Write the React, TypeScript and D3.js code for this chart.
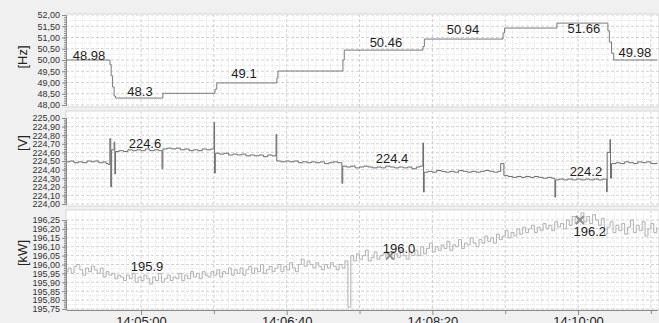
import { useEffect, useRef } from "react";
import * as d3 from "d3";

// times are seconds after 14:00:00
const xDomain = [248.5, 654.2];
const xTickLabels = ["14:05:00", "14:06:40", "14:08:20", "14:10:00"];
const xMinorTicks = [350, 450, 550, 650];

const hzTickLabels = ["48,00", "48,50", "49,00", "49,50", "50,00", "50,50", "51,00", "51,50", "52,00"];
const vTickLabels = ["224,00", "224,10", "224,20", "224,30", "224,40", "224,50", "224,60", "224,70", "224,80", "224,90", "225,00"];
const kwTickLabels = ["195,75", "195,80", "195,85", "195,90", "195,95", "196,00", "196,05", "196,10", "196,15", "196,20", "196,25"];

// frequency, step signal [t, Hz]
const hzSteps: [number, number][] = [
  [248.5, 50.0], [278.7, 49.8], [279.5, 49.3], [280.5, 48.8], [281.5, 48.4], [282.5, 48.31],
  [315.0, 48.52], [350.8, 48.7], [352.0, 48.98], [393.3, 49.2], [394.0, 49.51],
  [438.6, 50.0], [439.5, 50.44], [493.5, 50.6], [494.5, 50.93], [548.5, 51.2], [549.5, 51.42],
  [585.5, 51.64], [620.5, 51.3], [621.5, 50.8], [623.0, 50.3], [624.5, 50.0], [654.2, 50.0],
];

// voltage [t, V]
const vPoints: [number, number][] = [
  [248.5, 224.49], [251, 224.5], [254, 224.48], [257, 224.49], [260, 224.48], [263, 224.5], [266, 224.49],
  [268, 224.5], [271, 224.48], [274, 224.49], [276, 224.47], [277.5, 224.46],
  [278.6, 224.76], [279.2, 224.2], [279.8, 224.63], [281.5, 224.72], [282.0, 224.35], [282.5, 224.61],
  [285, 224.62], [288, 224.61], [291, 224.63], [294, 224.62], [297, 224.63], [300, 224.62], [303, 224.64],
  [306, 224.62], [309, 224.63], [312, 224.62],
  [314.4, 224.41], [315.0, 224.64],
  [318, 224.65], [321, 224.64], [324, 224.65], [327, 224.63], [330, 224.64], [333, 224.62], [336, 224.63],
  [339, 224.62], [342, 224.64], [345, 224.63], [348, 224.64],
  [350.1, 224.95], [350.5, 224.36], [351.0, 224.59],
  [354, 224.58], [357, 224.59], [360, 224.57], [363, 224.58], [366, 224.57], [369, 224.58], [372, 224.56],
  [375, 224.57], [378, 224.56], [381, 224.57], [384, 224.55], [387, 224.57], [390, 224.56],
  [392.7, 224.81], [393.2, 224.5],
  [396, 224.49], [399, 224.5], [402, 224.49], [405, 224.5], [408, 224.48], [411, 224.49], [414, 224.48],
  [417, 224.49], [420, 224.48], [423, 224.49], [426, 224.47], [429, 224.48], [432, 224.49], [435, 224.48],
  [437.9, 224.24], [438.5, 224.44],
  [441, 224.43], [444, 224.44], [447, 224.42], [450, 224.43], [453, 224.44], [456, 224.43], [459, 224.42],
  [462, 224.43], [465, 224.42], [468, 224.44], [471, 224.43], [474, 224.42], [477, 224.43], [480, 224.42],
  [483, 224.43], [486, 224.41], [489, 224.43], [491.5, 224.44],
  [493.5, 224.71], [493.9, 224.14], [494.4, 224.37],
  [497, 224.38], [500, 224.37], [503, 224.39], [506, 224.38], [509, 224.37], [512, 224.38], [515, 224.37],
  [518, 224.39], [521, 224.38], [524, 224.37], [527, 224.38], [530, 224.37], [533, 224.38], [536, 224.39],
  [539, 224.38], [542, 224.37], [545, 224.38],
  [546.9, 224.47], [549.1, 224.33],
  [552, 224.32], [555, 224.31], [558, 224.32], [561, 224.31], [564, 224.32], [567, 224.31], [570, 224.32],
  [573, 224.31], [576, 224.3], [579, 224.31], [582, 224.3],
  [584.1, 224.08], [584.6, 224.28],
  [587, 224.29], [590, 224.28], [593, 224.29], [596, 224.28], [599, 224.29], [602, 224.28], [605, 224.29],
  [608, 224.28], [611, 224.29], [614, 224.28], [617, 224.29],
  [619.6, 224.14], [620.0, 224.6], [621.9, 224.75], [622.3, 224.3], [623.0, 224.47],
  [626, 224.48], [629, 224.47], [632, 224.49], [635, 224.48], [638, 224.47], [641, 224.49], [644, 224.48],
  [647, 224.49], [650, 224.47], [654.2, 224.48],
];

// power, one sample every 2 s from t = 248
const kwStart = 248;
const kwInterval = 2;
const kwValues = [
  195.96, 195.98, 195.95, 195.99, 196.0, 195.97, 195.94, 195.98, 195.96, 195.99,
  195.97, 195.95, 195.98, 195.93, 195.96, 195.94, 195.95, 195.92, 195.94, 195.93,
  195.91, 195.94, 195.92, 195.95, 195.9, 195.93, 195.91, 195.94, 195.92, 195.89,
  195.93, 195.91, 195.95, 195.9, 195.92, 195.94, 195.91, 195.93, 195.92, 195.95,
  195.91, 195.94, 195.92, 195.96, 195.93, 195.95, 195.92, 195.96, 195.94, 195.93,
  195.96, 195.94, 195.97, 195.93, 195.96, 195.95, 195.98, 195.94, 195.97, 195.95,
  195.98, 195.94, 195.97, 195.99, 195.95, 195.98, 195.96, 196.0, 195.95, 195.97,
  195.99, 195.96, 195.98, 196.0, 195.96, 195.99, 195.97, 196.01, 195.98, 195.96,
  196.0, 196.03, 195.99, 196.02, 196.0, 195.98, 196.01, 195.99, 195.97, 196.0,
  195.98, 196.01, 195.99, 195.97, 196.0, 195.98, 196.02, 195.76, 196.05, 196.02,
  196.06, 196.03, 196.05, 196.08, 196.02, 196.04, 196.07, 196.03, 196.05, 196.06,
  196.04, 196.07, 196.03, 196.06, 196.04, 196.08, 196.05, 196.03, 196.07, 196.05,
  196.08, 196.05, 196.1, 196.06, 196.09, 196.12, 196.07, 196.1, 196.08, 196.11,
  196.09, 196.13, 196.08, 196.11, 196.1, 196.14, 196.09, 196.12, 196.11, 196.15,
  196.12, 196.1, 196.14, 196.12, 196.16, 196.13, 196.15, 196.12, 196.17, 196.14,
  196.16, 196.19, 196.15, 196.18, 196.16, 196.2, 196.17, 196.21, 196.18, 196.2,
  196.22, 196.18, 196.21, 196.19, 196.23, 196.2, 196.22, 196.19, 196.24, 196.21,
  196.23, 196.2, 196.25, 196.22, 196.27, 196.23, 196.26, 196.29, 196.24, 196.27,
  196.23, 196.28, 196.25, 196.22, 196.26, 196.17, 196.21, 196.24, 196.18, 196.22,
  196.19, 196.23, 196.17, 196.21, 196.25, 196.18, 196.22, 196.19, 196.24, 196.16,
  196.2, 196.23, 196.18, 196.21,
];

// value labels, anchored at [t, value] (text baseline)
const hzNotes: [string, number, number][] = [
  ["48.98", 264.3, 50.0], ["48.3", 299.3, 48.4], ["49.1", 370.7, 49.2], ["50.46", 468.1, 50.58],
  ["50.94", 521.0, 51.16], ["51.66", 604.0, 51.2], ["49.98", 639.0, 50.13],
];
const vNotes: [string, number, number][] = [
  ["224.6", 302.7, 224.65], ["224.4", 472.3, 224.48], ["224.2", 605.4, 224.33],
];
const kwNotes: [string, number, number][] = [
  ["195.9", 304.1, 195.963], ["196.0", 477.1, 196.065], ["196.2", 608.1, 196.16],
];
const kwMarkers: [number, number][] = [[470.9, 196.05], [601.3, 196.25]];

const toSec = (s: string) => {
  const [h, m, ss] = s.split(":").map(Number);
  return (h - 14) * 3600 + m * 60 + ss;
};
const num = (s: string) => +s.replace(",", ".");

const W = 659;
const H = 323;
const LEFT = 66;

export default function App() {
  const svgRef = useRef<SVGSVGElement>(null);

  useEffect(() => {
    const svg = d3.select(svgRef.current);
    svg.selectAll("*").remove();

    const x = d3.scaleLinear().domain(xDomain).range([LEFT, 657]);

    const panels = [
      { name: "hz", top: 14, bottom: 107, range: [105, 15], ticks: hzTickLabels, data: hzSteps,
        color: "#7a7a7a", notes: hzNotes, unit: "[Hz]", unitY: 57, markers: [] as [number, number][] },
      { name: "v", top: 111, bottom: 206, range: [204, 118], ticks: vTickLabels, data: vPoints,
        color: "#6e6e6e", notes: vNotes, unit: "[V]", unitY: 143, markers: [] as [number, number][] },
      { name: "kw", top: 210, bottom: 310, range: [309, 220], ticks: kwTickLabels,
        data: kwValues.map((v, i) => [kwStart + i * kwInterval, v] as [number, number]),
        color: "#b2b2b2", notes: kwNotes, unit: "[kW]", unitY: 253, markers: kwMarkers },
    ];

    panels.forEach((p) => {
      const vals = p.ticks.map(num);
      const y = d3.scaleLinear().domain([vals[0], vals[vals.length - 1]]).range(p.range);
      const step = vals[1] - vals[0];
      const g = svg.append("g");

      g.append("rect")
        .attr("x", LEFT).attr("y", p.top)
        .attr("width", W - LEFT).attr("height", p.bottom - p.top)
        .attr("fill", "#fff").attr("stroke", "#d6d6d6");

      const clipId = "clip-" + p.name;
      svg.append("clipPath").attr("id", clipId)
        .append("rect")
        .attr("x", LEFT + 1).attr("y", p.top + 1)
        .attr("width", W - LEFT).attr("height", p.bottom - p.top - 1);

      const grid = g.append("g").attr("clip-path", `url(#${clipId})`);

      // fine grid
      const minorX = d3.range(250, 655, 5).filter((t) => t % 50 !== 0);
      grid.selectAll(".mx").data(minorX).join("line")
        .attr("x1", (d) => x(d)).attr("x2", (d) => x(d))
        .attr("y1", p.top).attr("y2", p.bottom)
        .attr("stroke", "#e4e4e4").attr("stroke-dasharray", "1,1");
      const minorY = d3.range(vals[0] + step / 2, vals[vals.length - 1], step);
      grid.selectAll(".my").data(minorY).join("line")
        .attr("x1", LEFT).attr("x2", W)
        .attr("y1", (d) => y(d)).attr("y2", (d) => y(d))
        .attr("stroke", "#e4e4e4").attr("stroke-dasharray", "1,1");

      // major grid
      grid.selectAll(".gy").data(vals).join("line")
        .attr("x1", LEFT).attr("x2", W)
        .attr("y1", (d) => y(d)).attr("y2", (d) => y(d))
        .attr("stroke", "#d2d2d2").attr("stroke-dasharray", "3,2");
      grid.selectAll(".gx").data(d3.range(300, 655, 50)).join("line")
        .attr("x1", (d) => x(d)).attr("x2", (d) => x(d))
        .attr("y1", p.top).attr("y2", p.bottom)
        .attr("stroke", "#cfcfcf").attr("stroke-dasharray", "3,2");

      // series
      const ln = d3.line<[number, number]>()
        .x((d) => x(d[0])).y((d) => y(d[1]))
        .curve(d3.curveStepAfter);
      grid.append("path").datum(p.data)
        .attr("d", ln).attr("fill", "none")
        .attr("stroke", p.color).attr("stroke-width", 1);

      // markers
      p.markers.forEach(([t, v]) => {
        const cx = x(t), cy = y(v);
        g.append("path")
          .attr("d", `M${cx - 4},${cy - 4}L${cx + 4},${cy + 4}M${cx - 4},${cy + 4}L${cx + 4},${cy - 4}`)
          .attr("stroke", "#909090").attr("stroke-width", 2);
      });

      // value labels
      g.selectAll(".note").data(p.notes).join("text")
        .attr("x", (d) => x(d[1])).attr("y", (d) => y(d[2]))
        .attr("text-anchor", "middle")
        .attr("font-size", 13).attr("fill", "#1e1e1e")
        .text((d) => d[0]);

      // left axis
      const axis = d3.axisLeft(y).tickValues(vals)
        .tickFormat((_, i) => p.ticks[i]).tickSize(4).tickPadding(2);
      const ag = g.append("g").attr("transform", `translate(${LEFT},0)`).call(axis);
      const minorTicks = d3.range(vals[0], vals[vals.length - 1], step / 5);
      g.append("g").attr("transform", `translate(${LEFT},0)`)
        .call(d3.axisLeft(y).tickValues(minorTicks).tickFormat(() => "").tickSize(2).tickSizeOuter(0))
        .call((s) => s.select(".domain").remove())
        .selectAll("line").attr("stroke", "#8c8c8c");
      ag.select(".domain").attr("stroke", "#8c8c8c");
      ag.selectAll(".tick line").attr("stroke", "#8c8c8c");
      ag.selectAll("text").attr("font-size", 9).attr("fill", "#333")
        .attr("font-family", "'Liberation Sans', Arial, sans-serif");

      g.append("text")
        .attr("transform", `translate(27,${p.unitY}) rotate(-90)`)
        .attr("text-anchor", "middle")
        .attr("font-size", 13).attr("fill", "#222")
        .text(p.unit);
    });

    // time axis
    const xa = svg.append("g").attr("transform", "translate(0,310)")
      .call(d3.axisBottom(x).tickValues(xTickLabels.map(toSec))
        .tickFormat((_, i) => xTickLabels[i]).tickSize(5).tickPadding(2).tickSizeOuter(0));
    xa.select(".domain").attr("stroke", "#8c8c8c");
    xa.selectAll(".tick line").attr("stroke", "#8c8c8c");
    xa.selectAll("text").attr("font-size", 13).attr("fill", "#222")
      .attr("font-family", "'Liberation Sans', Arial, sans-serif");
    svg.append("g").attr("transform", "translate(0,310)")
      .call(d3.axisBottom(x).tickValues(xMinorTicks).tickFormat(() => "").tickSize(4).tickSizeOuter(0))
      .call((s) => s.select(".domain").remove())
      .selectAll("line").attr("stroke", "#8c8c8c");
  }, []);

  return (
    <svg
      ref={svgRef}
      width={W}
      height={H}
      style={{
        position: "absolute",
        left: 0,
        top: 0,
        background: "#f0f0f0",
        fontFamily: "'Liberation Sans', Arial, sans-serif",
      }}
    />
  );
}
